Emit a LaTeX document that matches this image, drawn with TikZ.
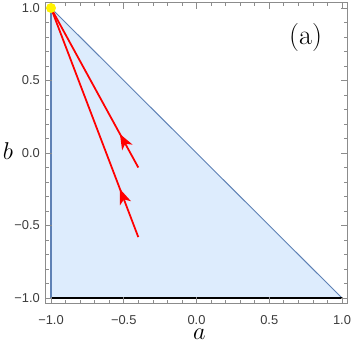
\documentclass[tikz,border=0pt]{standalone}
\usepackage{fontspec}
\newfontfamily\ticksf{Liberation Sans}
\usetikzlibrary{arrows.meta,decorations.markings}
\definecolor{regionfill}{RGB}{221,236,253}
\definecolor{regionedge}{RGB}{94,129,181}
\definecolor{framegray}{RGB}{140,140,140}
\definecolor{ticktext}{RGB}{60,60,60}
\begin{document}
\begin{tikzpicture}[x=4.365cm, y=4.35cm]
    % Define styles
    \tikzstyle{frame} = [draw=framegray, line width=0.6pt]
    \tikzstyle{ticklabel} = [font=\ticksf\fontsize{11}{11}\selectfont, text=ticktext, inner sep=0pt]
    \tikzstyle{axislabel} = [font=\fontsize{21}{21}\selectfont, inner sep=0pt]
    \tikzstyle{flow} = [red, line width=1.5pt, postaction={decorate},
        decoration={markings, mark=at position 0.21 with {\arrow{Stealth[length=13pt, width=10pt, inset=3.5pt]}}}]
    \useasboundingbox (-1.3505,-1.3103) rectangle (1.0756,1.0552);

    % Region
    \coordinate (apex) at (-1,1);
    \coordinate (corner) at (-1,-1);
    \coordinate (far) at (1,-1);
    \fill [regionfill] (apex) -- (far) -- (corner) -- cycle;
    \draw [regionedge, line width=0.8pt] (apex) -- (far);
    \draw [regionedge, line width=1.4pt] (corner) -- (apex);
    \draw [black, line width=1pt] (corner) -- (far);

    % Frame and ticks
    \draw [frame] (-1.04,-1.04) rectangle (1.04,1.04);
    \foreach \t in {-1.0,-0.9,...,1.01} {
        \draw [frame] (\t,-1.04) -- ++(0,0.024);
        \draw [frame] (\t,1.04) -- ++(0,-0.024);
        \draw [frame] (-1.04,\t) -- ++(0.024,0);
        \draw [frame] (1.04,\t) -- ++(-0.024,0);
    }
    \foreach \t in {-1.0,-0.5,0.0,0.5,1.0} {
        \draw [frame] (\t,-1.04) -- ++(0,0.045);
        \draw [frame] (\t,1.04) -- ++(0,-0.045);
        \draw [frame] (-1.04,\t) -- ++(0.045,0);
        \draw [frame] (1.04,\t) -- ++(-0.045,0);
    }
    \foreach \t/\txt in {-1.0/−1.0,-0.5/−0.5,0.0/0.0,0.5/0.5,1.0/1.0} {
        \node (xt\t) [ticklabel, anchor=north] at (\t,-1.117) {\txt};
        \node (yt\t) [ticklabel, anchor=east] at (-1.075,\t) {\txt};
    }

    % Axis labels
    \node (alabel) [axislabel, anchor=base] at (0.02,-1.285) {$a$};
    \node (blabel) [axislabel, anchor=base] at (-1.296,-0.048) {$b$};
    \node (panel) [axislabel, font=\fontsize{24}{24}\selectfont] at (0.75,0.80) {(a)};

    % Trajectories
    \coordinate (start1) at (-0.4,-0.1);
    \coordinate (start2) at (-0.4,-0.58);
    \draw [flow] (start1) -- (apex);
    \draw [flow] (start2) -- (apex);

    % Fixed point
    \node (fixed) [circle, fill=yellow, minimum size=0.3cm, inner sep=0pt] at (apex) {};
\end{tikzpicture}
\end{document}
